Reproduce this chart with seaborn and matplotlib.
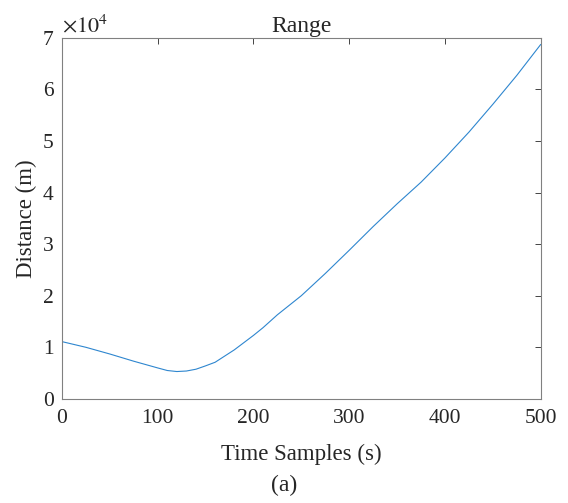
import numpy as np
import pandas as pd
import seaborn as sns
import matplotlib
matplotlib.use("Agg")
import matplotlib.pyplot as plt

# values (distance in metres)
time_s = [0, 25, 50, 75, 100, 110, 120, 130, 140, 150, 160, 170, 180, 190,
          200, 210, 225, 250, 275, 300, 325, 350, 375, 400, 425, 450, 475, 500]
distance_m = [11100, 10000, 8700, 7300, 6000, 5500, 5300, 5400, 5750, 6400,
              7100, 8300, 9500, 10900, 12300, 13800, 16300, 20000, 24300,
              28800, 33400, 37800, 42000, 46700, 51700, 57100, 62700, 68700]
x_ticks = [0, 100, 200, 300, 400, 500]
y_ticks = [0, 10000, 20000, 30000, 40000, 50000, 60000, 70000]
y_tick_labels = ["0", "1", "2", "3", "4", "5", "6", "7"]

df = pd.DataFrame({"t": time_s, "d": distance_m})

sns.set_style("white")
plt.rcParams["font.family"] = ["Liberation Serif", "DejaVu Serif"]
plt.rcParams["mathtext.fontset"] = "stix"

fig = plt.figure(figsize=(5.68, 5.03), dpi=100)
ax = fig.add_axes([0.109, 0.207, 0.843, 0.718])

sns.lineplot(data=df, x="t", y="d", ax=ax, color="#2E86CF", linewidth=0.8)

ax.set_xlim(0, 500)
ax.set_ylim(0, 70000)
ax.set_xticks(x_ticks)
ax.set_yticks(y_ticks)
ax.set_yticklabels(y_tick_labels)
ax.tick_params(direction="in", length=4, width=0.6, colors="#262626",
               labelsize=15.5, top=True, right=True)
ax.tick_params(axis="x", pad=7)
ax.tick_params(axis="y", pad=6)
for s in ax.spines.values():
    s.set_color("#808080")
    s.set_linewidth(0.8)

ax.set_title("Range", fontsize=17, pad=4)
ax.set_xlabel("Time Samples (s)", fontsize=16.5, color="#262626", labelpad=12)
ax.set_ylabel("Distance (m)", fontsize=16.5, color="#262626", labelpad=4)
ax.text(0.0, 1.0, r"$\times10^{4}$", transform=ax.transAxes, fontsize=16,
        ha="left", va="bottom", color="#262626")
fig.text(0.5, 0.035, "(a)", ha="center", va="center", fontsize=17)

fig.savefig("out.png", dpi=100)
